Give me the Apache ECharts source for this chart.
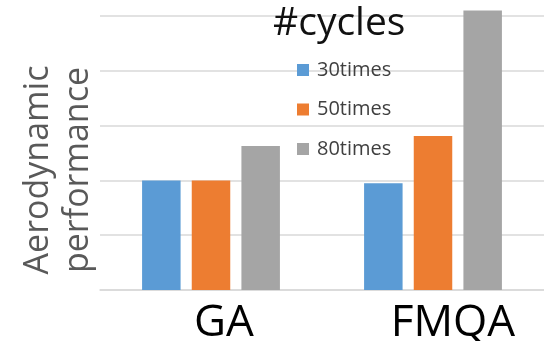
<!DOCTYPE html>
<html>
<head>
<meta charset="utf-8">
<script src="https://cdn.jsdelivr.net/npm/echarts@6/dist/echarts.min.js"></script>
<style>html,body{margin:0;padding:0;background:#fff}#c{width:544px;height:341px}</style>
</head>
<body>
<div id="c"></div>
<script>
const categories = ['GA', 'FMQA'];
const seriesNames = ['30times', '50times', '80times'];
const values30 = [2.0, 1.95];
const values50 = [2.0, 2.81];
const values80 = [2.63, 5.1];
const yTicks = [0, 1, 2, 3, 4, 5];

const colors = ['#5b9bd5', '#ed7d31', '#a5a5a5'];
const FONT = 'Open Sans';
const chart = echarts.init(document.getElementById('c'), null, {renderer: 'canvas'});
const data = [values30, values50, values80];
chart.setOption({
  animation: false,
  color: colors,
  title: {
    text: '#cycles', left: 268, top: -1,
    textStyle: {fontFamily: FONT, fontSize: 39, fontWeight: 'normal', color: '#111'}
  },
  legend: {
    orient: 'vertical', left: 292, top: 55, itemWidth: 12, itemHeight: 12, itemGap: 19.5,
    icon: 'rect', data: seriesNames,
    textStyle: {fontFamily: FONT, fontSize: 20, color: '#404040', lineHeight: 20, padding: [0, 0, 0, 3]}
  },
  grid: {left: 100, right: 0, top: 16, bottom: 51, outerBoundsMode: 'none', containLabel: false},
  xAxis: {
    type: 'category', data: categories,
    axisLine: {lineStyle: {color: '#d9d9d9', width: 1.5}},
    axisTick: {show: false},
    axisLabel: {
      interval: 0, hideOverlap: false,
      fontFamily: FONT, fontSize: 44, color: '#000', margin: 11,
      formatter: v => v === 'GA' ? '{a|GA}' : '{b|FMQA}',
      rich: {
        a: {fontFamily: FONT, fontSize: 44, color: '#000', padding: [0, 0, 0, 26]},
        b: {fontFamily: FONT, fontSize: 44, color: '#000', padding: [0, 0, 0, 40]}
      }
    }
  },
  yAxis: {
    type: 'value', min: yTicks[0], max: yTicks[yTicks.length - 1], interval: 1,
    axisLabel: {show: false}, axisLine: {show: false}, axisTick: {show: false},
    splitLine: {lineStyle: {color: '#d9d9d9', width: 1.5}}
  },
  graphic: [{
    type: 'text', x: 58, y: 170, rotation: Math.PI / 2,
    style: {
      text: 'Aerodynamic\nperformance', fontFamily: FONT, fontSize: 34, lineHeight: 40,
      fill: '#595959', align: 'center', verticalAlign: 'middle'
    }
  }],
  series: seriesNames.map((n, i) => ({
    name: n, type: 'bar', data: data[i], barWidth: 38.5, barGap: '29%', clip: false
  }))
});
</script>
</body>
</html>
